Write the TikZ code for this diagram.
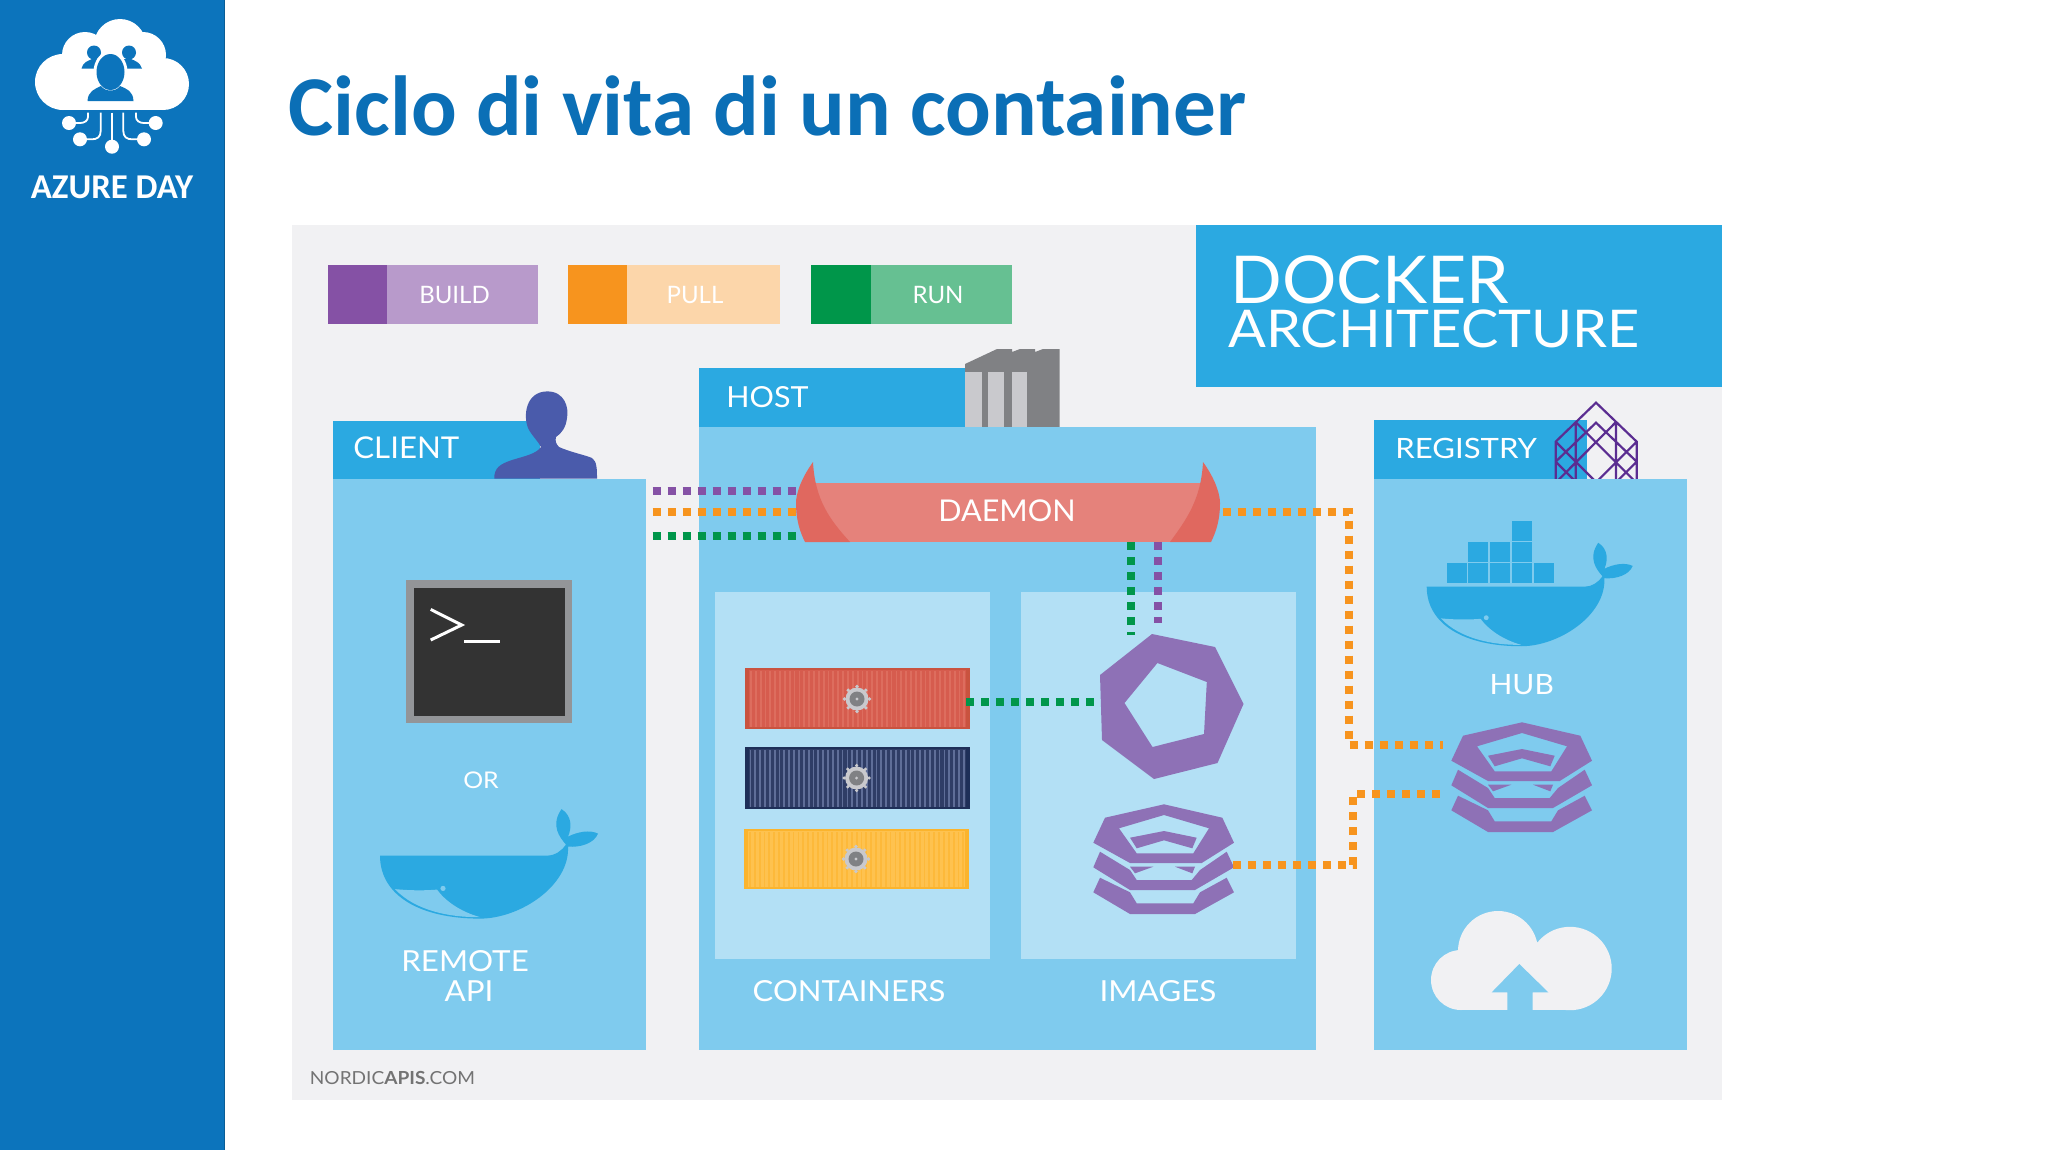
\documentclass[tikz,border=0pt]{standalone}
\usepackage{graphicx}
\usepackage{fontspec}
\setmainfont{Lato}
\newfontfamily\titlefont[Ligatures=TeX]{Carlito}
\definecolor{bgpanel}{HTML}{F1F1F3}
\definecolor{panel}{HTML}{7FCBEE}
\definecolor{inner}{HTML}{B3E0F5}
\definecolor{header}{HTML}{2BA9E1}
\definecolor{side}{HTML}{0C74BC}
\definecolor{titleblue}{HTML}{0B6FB6}
\definecolor{stackp}{HTML}{8E71B6}
\definecolor{dotorange}{HTML}{F7941E}
\definecolor{dotgreen}{HTML}{00964A}
\definecolor{dotpurple}{HTML}{8551A5}
\definecolor{wire}{HTML}{5B2D91}
\definecolor{person}{HTML}{4A5BAB}
\definecolor{greyb}{HTML}{808184}
\definecolor{greyl}{HTML}{C9C9CD}
\definecolor{termb}{HTML}{939598}
\definecolor{termd}{HTML}{333333}
\definecolor{bandc}{HTML}{E5827B}
\definecolor{hornc}{HTML}{E0685F}
\definecolor{redb}{HTML}{D65C4E}
\definecolor{reds}{HTML}{DD6D5E}
\definecolor{rede}{HTML}{C9533F}
\definecolor{navyb}{HTML}{2F3D66}
\definecolor{navys}{HTML}{5F6E98}
\definecolor{navye}{HTML}{1E2F58}
\definecolor{yelb}{HTML}{FEC24F}
\definecolor{yels}{HTML}{FDB93A}
\definecolor{yele}{HTML}{FBB42D}
\tikzset{
  lab/.style={text=white,inner sep=0pt,font=\fontsize{14}{14}\selectfont},
  dots/.style={line width=4pt,dash pattern=on 4pt off 3.5pt},
}
\newcommand{\wide}[2]{\scalebox{#1}[1]{#2}}
\newcommand{\whaleshape}{%
  \fill[header] (0,0) -- (167,0) .. controls (175,0) and (182,-5) .. (186,-11)
    .. controls (180,-18) and (170,-30) .. (181.5,-46.5) .. controls (192,-40) and (192,-28) .. (188,-19)
    .. controls (198,-24) and (210,-26) .. (218,-22) .. controls (214,-12) and (200,-8) .. (188,-9)
    .. controls (190,30) and (140,63) .. (100,63) .. controls (40,63) and (0,40) .. (0,0) -- cycle;
  \fill[panel] (15,33.5) .. controls (30,35) and (45,35) .. (57,34)
    .. controls (65,45) and (80,56) .. (100,61.5) .. controls (70,62) and (35,55) .. (15,33.5) -- cycle;
  \fill[panel] (63,32.8) circle (2.6);
}
\newcommand{\stackshape}{%
  \fill[stackp,even odd rule] (1164,804.3) -- (1222.3,817.7) -- (1234,842.7) -- (1201.7,863) -- (1130,863) -- (1093.3,842.7) -- (1105,817.7) -- cycle
    (1164,815) -- (1209,828.3) -- (1193.3,853.3) -- (1136.7,853.3) -- (1119,828.3) -- cycle;
  \fill[stackp] (1164,831) -- (1196.7,837.7) -- (1192.3,848.3) -- (1164,840.3) -- (1136.7,848.3) -- (1130,837.7) -- cycle;
  \fill[stackp] (1100,851.7) -- (1130,870) -- (1136.7,880) -- (1191.7,880) -- (1200,870) -- (1226.7,851.7) -- (1234,867.3) -- (1195,890) -- (1130,890) -- (1093.3,867.3) -- cycle;
  \fill[stackp] (1130,866.7) -- (1153.3,866.7) -- (1135,873.3) -- cycle (1175,866.7) -- (1195,866.7) -- (1192.3,873.3) -- cycle;
  \fill[stackp] (1100,877.7) -- (1130,892.3) -- (1136.7,903.3) -- (1193.3,903.3) -- (1200,892.3) -- (1226.7,877.7) -- (1234,892.3) -- (1195,914) -- (1130,914) -- (1093.3,892.3) -- cycle;
}
\newcommand{\gearshape}[2]{%
  \foreach \a in {0,45,...,315}{\fill[#2] ($(#1)+(\a:12.5)$) circle (1.8);}
  \fill[#2] (#1) circle (11.5);
  \fill[greyb] (#1) circle (7.5);
  \fill[#2] (#1) circle (1.6);
}
\newcommand{\boxshape}[7]{% x1,y1,x2,y2, base, stripe, edge
  \fill[#7] (#1,#2) rectangle (#3,#4);
  \fill[#5] ({#1+4},{#2+2}) rectangle ({#3-4},{#4-2});
  \foreach \k in {0,...,44}{\fill[#6] ({#1+5+\k*4.85},{#2+2.5}) rectangle ({#1+6.8+\k*4.85},{#4-2.5});}
}
\usetikzlibrary{calc}
\begin{document}
\begin{tikzpicture}[x=0.5pt,y=-0.5pt]
\useasboundingbox (0,0) rectangle (2048,1152);
\fill[white] (0,0) rectangle (2048,1152);
% sidebar
\fill[side] (0,0) rectangle (224,1150);
\draw[color=side!80!black,line width=0.5pt] (224,0) -- (224,1150);
% logo cloud
\fill[white] (63,82) circle (28) (163,84) circle (26) (85,55) circle (23) (120,45) circle (26) (143,55) circle (23);
\fill[white] (63,60) rectangle (163,109.5);
\fill[side] (94,52.5) circle (7);
\fill[side] (129,52.5) circle (7);
\fill[side] (81.5,68.5) .. controls (83,62) and (88,61) .. (92,59) -- (100,59) -- (100,68.5) -- cycle;
\fill[side] (142,68.5) .. controls (140,62) and (135,61) .. (131,59) -- (123,59) -- (123,68.5) -- cycle;
\fill[white] (110.5,72) ellipse (17 and 21);
\fill[side] (110.5,72) ellipse (14 and 18);
\fill[side] (87.5,101) .. controls (88,91) and (95,89) .. (101,86) .. controls (105,92) and (116,92) .. (120,86) .. controls (127,89) and (133,91) .. (133.5,101) -- cycle;
\begin{scope}[draw=white,line width=0.9pt]
\draw (88,112.7) -- (88,117) .. controls (88,121) and (84,123) .. (80,123) -- (69,123);
\draw (100.7,112.7) -- (100.7,131) .. controls (100.7,137) and (97,139.3) .. (92,139.3) -- (80,139.3);
\draw (112,112.7) -- (112,146);
\draw (123.3,112.7) -- (123.3,131) .. controls (123.3,137) and (127,139.3) .. (132,139.3) -- (144,139.3);
\draw (136,112.7) -- (136,117) .. controls (136,121) and (140,123) .. (144,123) -- (155.7,123);
\end{scope}
\fill[white] (69,123) circle (7) (80,139.3) circle (7) (112,146.7) circle (7) (144,139.3) circle (7) (155.7,123) circle (7);
\node[inner sep=0pt,text=white] (azure) at (112,187) {\titlefont\bfseries\fontsize{17.4}{17.4}\selectfont AZURE DAY};
% title
\node[inner sep=0pt,anchor=base west,text=titleblue] (title) at (288,135) {\titlefont\bfseries\fontsize{42.6}{42.6}\selectfont Ciclo di vita di un container};
% grey panel
\fill[bgpanel] (292,225) rectangle (1722,1100);
\fill[header] (1196,225) rectangle (1722,387);
\node[lab,anchor=base west] (docker) at (1230,303) {\wide{1.03}{\fontsize{33}{33}\selectfont DOCKER}};
\node[lab,anchor=base west] (arch) at (1228,347) {\wide{1.075}{\fontsize{26}{26}\selectfont ARCHITECTURE}};
% legend
\fill[dotpurple] (328,265) rectangle (387,324);
\fill[dotpurple!58!white] (387,265) rectangle (538,324);
\fill[dotorange] (568,265) rectangle (627,324);
\fill[dotorange!38!white] (627,265) rectangle (780,324);
\fill[dotgreen] (811,265) rectangle (871,324);
\fill[dotgreen!60!white] (871,265) rectangle (1012,324);
\node[lab,font=\fontsize{12}{12}\selectfont] (build) at (454.5,295) {BUILD};
\node[lab,font=\fontsize{12}{12}\selectfont] (pull) at (695,295) {PULL};
\node[lab,font=\fontsize{12}{12}\selectfont] (run) at (938,295) {RUN};
% client
\fill[header] (332.7,420.5) rectangle (540,478.5);
\fill[person] (494.3,478.5) .. controls (494,468) and (500,464) .. (512,460) .. controls (525,456) and (536,454) .. (541,447)
  .. controls (538,441) and (532,436) .. (528,428) .. controls (523,415) and (526,392) .. (546.7,391.4)
  .. controls (565,391) and (569,408) .. (567,418) .. controls (566,427) and (562,433) .. (556,437)
  .. controls (555,441) and (556,444) .. (559,447) .. controls (570,452) and (585,455) .. (592,458)
  .. controls (597,461) and (597,470) .. (597,478.5) -- cycle;
\fill[panel] (332.7,478.5) rectangle (646,1050);
\node[lab,anchor=base west,font=\fontsize{15}{15}\selectfont] (client) at (353,458) {\wide{1.04}{CLIENT}};
\fill[termb] (406,580) rectangle (572,723);
\fill[termd] (414,587.5) rectangle (565,715.5);
\draw[white,line width=1.5pt,line join=miter] (430.7,609.4) -- (461.7,625) -- (430.7,640);
\draw[white,line width=1.5pt] (464,641.8) -- (500,641.8);
\node[lab,font=\fontsize{11.5}{11.5}\selectfont] (or) at (481,780.7) {\wide{1.08}{OR}};
\begin{scope}[shift={(380,855.6)}]\whaleshape\end{scope}
\node[lab,font=\fontsize{14.5}{14.5}\selectfont] (remote) at (465,961) {\wide{1.08}{REMOTE}};
\node[lab,font=\fontsize{14.5}{14.5}\selectfont] (api) at (469,991.5) {\wide{1.08}{API}};
% host
\fill[header] (699,368) rectangle (965,427);
\fill[greyb] (965,364) -- (997,349) -- (1012,349) -- (1012,352) -- (1020,349) -- (1035,349) -- (1035,352) -- (1043,349) -- (1059.6,349) -- (1059.6,427) -- (965,427) -- cycle;
\fill[greyl] (965,372) rectangle (981.5,427);
\fill[greyl] (988,372) rectangle (1004,427);
\fill[greyl] (1011.5,372) rectangle (1027,427);
\node[lab,anchor=base west,font=\fontsize{14.5}{14.5}\selectfont] (host) at (726,407) {\wide{1.05}{HOST}};
\fill[panel] (699,426.7) rectangle (1315.5,1050);
\fill[inner] (714.5,592) rectangle (990,958.5);
\fill[inner] (1021,592) rectangle (1296,958.5);
% registry
\fill[header] (1374,420) rectangle (1587,479);
\begin{scope}[shift={(1540,390)},scale=1/3]
\clip (0,0) rectangle (330,267);
\draw[wire,line width=1.1pt,line join=miter]
  (47,270) -- (47,155) -- (168,38) -- (290,155) -- (290,270)
  (107,96) -- (107,270) (228,96) -- (228,270)
  (47,215) -- (168,98) -- (290,215)
  (47,155) -- (162,270) (107,96) -- (281,270) (47,215) -- (102,270)
  (290,155) -- (175,270) (228,96) -- (55,270) (290,215) -- (235,270);
\end{scope}
\node[lab,anchor=base west] (registry) at (1395,458) {\wide{1.11}{REGISTRY}};
\fill[panel] (1374,478.7) rectangle (1686.7,1050);
% docker whale
\foreach \cx/\cy in {1446.7/563.3,1468.3/563.3,1490/563.3,1511.7/563.3,1533.7/563.3,1468.3/542,1490/542,1511.7/542,1511.7/520.5}
  \fill[header] (\cx,\cy) rectangle ++(20,20);
\begin{scope}[shift={(1426.7,586.7)},scale=0.945]\whaleshape\end{scope}
\node[lab] (hub) at (1521.7,685) {\wide{1.07}{HUB}};
\begin{scope}[shift={(358,-82)}]\stackshape\end{scope}
% cloud
\fill[bgpanel] (1461,980) circle (30) (1498,951) circle (40) (1570,968.5) circle (41.7);
\fill[bgpanel] (1461,965) rectangle (1570,1010);
\fill[panel] (1519.3,964) -- (1548.3,992.3) -- (1532.7,992.3) -- (1532.7,1012) -- (1507.3,1012) -- (1507.3,992.3) -- (1491.7,992.3) -- cycle;
% containers
\boxshape{745}{668}{970}{729}{redb}{reds}{rede}
\boxshape{744.5}{747}{969.5}{809}{navyb}{navys}{navye}
\boxshape{744}{829}{969}{889}{yelb}{yels}{yele}
\gearshape{857,699}{greyl}
\gearshape{856.6,778}{greyl}
\gearshape{856,859}{greyl}
% images
\fill[stackp,even odd rule] (1152,634) -- (1215,647) -- (1243.5,704) -- (1217.5,763) -- (1154,779) -- (1102,740) -- (1100,675) -- cycle
  (1157.4,663) -- (1206.8,682) -- (1204,734) -- (1152.5,747) -- (1124.5,703) -- cycle;
\stackshape
\node[lab,font=\fontsize{14.5}{14.5}\selectfont] (containers) at (849,991) {\wide{1.07}{CONTAINERS}};
\node[lab,font=\fontsize{14.5}{14.5}\selectfont] (images) at (1158,991) {\wide{1.085}{IMAGES}};
% daemon
\fill[bandc] (813,483) rectangle (1203,542);
\fill[hornc] (813,462) .. controls (800,480) and (796,495) .. (796,503) .. controls (796,520) and (800,532) .. (805,542) -- (850,542) .. controls (830,520) and (815,500) .. (813,462) -- cycle;
\fill[hornc] (1203,462) .. controls (1216,480) and (1220,495) .. (1220,503) .. controls (1220,520) and (1216,532) .. (1211,542) -- (1170,542) .. controls (1186,520) and (1201,500) .. (1203,462) -- cycle;
\node[lab,font=\fontsize{15}{15}\selectfont] (daemon) at (1007,511) {\wide{1.02}{DAEMON}};
% dotted connectors
\coordinate (dpl) at (796,491); \coordinate (cpl) at (652.5,491);
\coordinate (dol) at (796,512); \coordinate (col) at (652.5,512);
\coordinate (dgl) at (796,536); \coordinate (cgl) at (652.5,536);
\coordinate (dor) at (1222.6,512); \coordinate (hubin) at (1443,745); \coordinate (hubcorner) at (1349,745); \coordinate (dcorner) at (1349,512);
\coordinate (imgout) at (1233,865); \coordinate (imgcorner) at (1353,865); \coordinate (hubcorner2) at (1353,794); \coordinate (hubout) at (1440,794);
\coordinate (dg) at (1131,542); \coordinate (ig) at (1131,635);
\coordinate (dp) at (1158,542); \coordinate (ip) at (1158,623);
\coordinate (cg) at (966,702); \coordinate (ig2) at (1094,702);
\draw[dots,color=dotpurple] (cpl) -- (dpl);
\draw[dots,color=dotorange] (col) -- (dol);
\draw[dots,color=dotgreen] (cgl) -- (dgl);
\draw[dots,color=dotorange] (dor) -- (dcorner) -- (hubcorner) -- (hubin);
\draw[dots,color=dotorange] (imgout) -- (imgcorner) -- (hubcorner2) -- (hubout);
\draw[dots,color=dotgreen] (dg) -- (ig);
\draw[dots,color=dotpurple] (dp) -- (ip);
\draw[dots,color=dotgreen] (cg) -- (ig2);
\node[inner sep=0pt,anchor=base west,text=black!55,font=\fontsize{9}{9}\selectfont] (nordic) at (309.5,1084) {\wide{1.06}{NORDIC\textbf{APIS}.COM}};
\end{tikzpicture}
\end{document}
